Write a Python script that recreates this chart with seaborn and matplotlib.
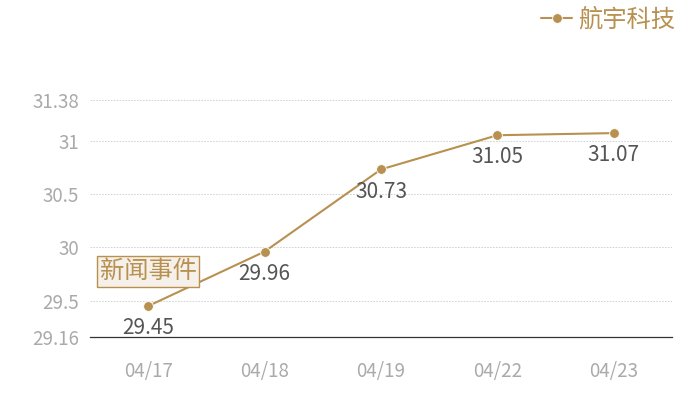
import matplotlib
matplotlib.use("Agg")
import matplotlib.pyplot as plt
import seaborn as sns
import pandas as pd

dates = ["04/17", "04/18", "04/19", "04/22", "04/23"]
prices = [29.45, 29.96, 30.73, 31.05, 31.07]
series_name = "航宇科技"
yticks = [29.16, 29.5, 30, 30.5, 31, 31.38]
ytick_labels = ["29.16", "29.5", "30", "30.5", "31", "31.38"]
event_label = "新闻事件"
event_index = 0

sns.set_theme(style="white")
plt.rcParams['font.family'] = ['Noto Sans CJK SC', 'DejaVu Sans']

GOLD = "#b8904f"

df = pd.DataFrame({"date": dates, "price": prices, "series": series_name})

fig = plt.figure(figsize=(7, 4), dpi=100)
ax = fig.add_axes([90/700, 1-337/400, 582/700, 237/400])

sns.lineplot(data=df, x="date", y="price", hue="series", palette=[GOLD],
             marker="o", markersize=7, markeredgecolor="white", markeredgewidth=0.6,
             linewidth=1.5, ax=ax, sort=False)

ax.set_xlim(-0.5, len(dates) - 0.5)
ax.set_ylim(yticks[0], yticks[-1])
ax.set_yticks(yticks)
ax.set_yticklabels(ytick_labels)
ax.set_xlabel("")
ax.set_ylabel("")
ax.tick_params(axis="both", length=0, colors="#aaaaaa", labelsize=13.5)
ax.tick_params(axis="x", pad=17)
ax.tick_params(axis="y", pad=8)

for yt in yticks[1:]:
    ax.axhline(yt, color="#cccccc", linestyle=(0, (2, 1.5)), linewidth=0.6, zorder=0)

for s in ["top", "right", "left"]:
    ax.spines[s].set_visible(False)
ax.spines["bottom"].set_color("#333333")
ax.spines["bottom"].set_linewidth(0.9)

for i, v in enumerate(prices):
    ax.annotate(f"{v:.2f}", (i, v), xytext=(0, -16), textcoords="offset points",
                ha="center", va="center", fontsize=15, color="#555555")

ax.annotate(event_label, (event_index, prices[event_index]), xytext=(0, 25),
            textcoords="offset points", ha="center", va="center",
            fontsize=17.5, color=GOLD,
            bbox=dict(boxstyle="square,pad=0.1", facecolor="#f5f0e9",
                      edgecolor=GOLD, linewidth=1))

leg = ax.legend(loc="upper right", bbox_to_anchor=(690/700, 1.02), bbox_transform=fig.transFigure,
                frameon=False, fontsize=17.5, handlelength=1.3, handletextpad=0.25,
                borderaxespad=0.2)
for t in leg.get_texts():
    t.set_color(GOLD)

fig.savefig("out.png", dpi=100)
